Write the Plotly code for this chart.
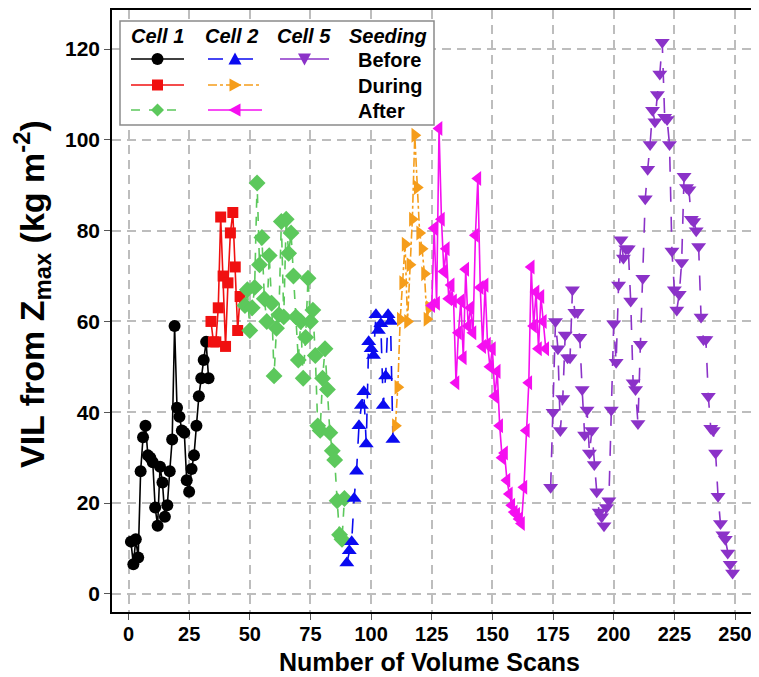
import plotly.graph_objects as go

# ---------------- data ----------------
cell1_before_x = list(range(1, 34))
cell1_before_y = [11.5, 6.5, 12, 8, 27, 34.5, 37, 30.5, 30, 29, 19, 15, 28, 24.5, 17, 19.5,
                  27, 34, 59, 41, 39, 36, 35.5, 25, 22.5, 27.5, 30.5, 37, 43.5, 47.5, 51.5,
                  55.5, 47.5]

cell1_during_x = list(range(34, 47))
cell1_during_y = [60, 55.5, 55.5, 63, 83, 70, 54.5, 68.5, 79.5, 84, 72, 58, 65.5]

cell1_after_x = list(range(48, 90))
cell1_after_y = [63.5, 67, 58, 63, 67.5, 90.5, 72.5, 78.5, 65, 60, 74.5, 64, 48, 58.5, 61.5,
                 82, 61, 82.5, 75, 79.5, 70, 61, 51.5, 60, 47.5, 56.5, 69.5, 60, 62.5, 52.5,
                 37, 36, 47.5, 54, 45, 35.5, 31.5, 29.5, 20.5, 13, 12, 21]

cell2_before_x = list(range(90, 110))
cell2_before_y = [6.8, 9.5, 11.5, 21, 27, 37, 41.5, 44.5, 33, 55.5, 54, 52.5, 61.5, 58, 59.5,
                  41.5, 48, 61.5, 60, 34]

cell2_during_x = list(range(110, 125))
cell2_during_y = [37, 45.5, 60.5, 68.5, 77, 60, 72.5, 82.5, 101, 89.5, 79.5, 76, 70.5, 60.5, 63]

cell2_after_x = list(range(125, 173))
cell2_after_y = [63.5, 80.5, 64, 102.5, 82.5, 71, 76, 65, 68, 64.5, 46.5, 57.5, 64.5, 52, 71.5,
                 59, 63, 57.5, 79, 91.5, 67.5, 54.5, 68, 55, 50, 54, 43.5, 49, 37, 30, 31, 25,
                 22, 19.5, 18, 17.5, 16.5, 15.5, 23.5, 36, 46.5, 72, 59, 66.5, 54, 65.5, 60, 54]

cell5_before_x = list(range(174, 250))
cell5_before_y = [23.5, 40, 60, 54, 36, 43, 57, 52, 52, 67, 62, 62, 56.5, 45, 35, 40.5, 31, 36,
                  28.5, 22.5, 18, 17, 15, 19, 20.5, 40.5, 59.5, 51, 68, 78, 74, 76, 76, 64.5,
                  46.5, 45, 37.5, 55, 69.5, 87, 93.5, 99, 106.5, 104, 110, 114.5, 121.5, 105,
                  104.5, 99, 75.5, 67, 62.5, 66, 73, 92, 89.5, 89, 82.5, 82, 80, 76.5, 61, 56,
                  56, 43.5, 36.5, 36, 31, 21.5, 15.5, 13, 12, 9, 6.5, 4.6]

x_ticks = [0, 25, 50, 75, 100, 125, 150, 175, 200, 225, 250]
y_ticks = [0, 20, 40, 60, 80, 100, 120]

col_headers = ["Cell 1", "Cell 2", "Cell 5", "Seeding"]
row_labels = ["Before", "During", "After"]
x_title = "<b>Number of Volume Scans</b>"
y_title = "<b>VIL from Z<sub>max</sub> (kg m<sup>-2</sup>)</b>"

# ---------------- styles ----------------
BLACK, RED, GREEN = "#000000", "#F01010", "#5CC85C"
BLUE, ORANGE, MAGENTA, PURPLE = "#0A0AF0", "#F59D1B", "#F50FF0", "#8B32C8"

series = [
    (cell1_before_x, cell1_before_y, BLACK, "circle", 12, "solid"),
    (cell1_during_x, cell1_during_y, RED, "square", 11, "solid"),
    (cell1_after_x, cell1_after_y, GREEN, "diamond", 13, "dash"),
    (cell2_before_x, cell2_before_y, BLUE, "triangle-up", 13, "longdash"),
    (cell2_during_x, cell2_during_y, ORANGE, "triangle-right", 13, "dashdot"),
    (cell2_after_x, cell2_after_y, MAGENTA, "triangle-left", 13, "solid"),
    (cell5_before_x, cell5_before_y, PURPLE, "triangle-down", 13, "longdash"),
]

fig = go.Figure()
for xs, ys, col, sym, size, dash in series:
    fig.add_trace(go.Scatter(
        x=xs, y=ys, mode="lines+markers",
        line=dict(color=col, width=1.6, dash=dash),
        marker=dict(color=col, symbol=sym, size=size, line=dict(width=0)),
        showlegend=False, cliponaxis=False))

# page is shown with the browser's default 8px body margin
OFF = 8
PAGE_W, PAGE_H = 759, 677
W, H = PAGE_W - OFF, PAGE_H - OFF
# plot area in page pixels: x 112..752, y 10..612
P_L, P_R, P_T, P_B = 112, 752, 10, 612
L, R, T, B = P_L - OFF, (PAGE_W - P_R), P_T - OFF, (PAGE_H - P_B)
PW, PH = W - L - R, H - T - B
FONT = "Liberation Sans, Arial, sans-serif"


def px(x):
    return (x - P_L) / PW


def py(y):
    return (P_B - y) / PH


shapes = []
annotations = []
# legend box
shapes.append(dict(type="rect", xref="paper", yref="paper", layer="above",
                   x0=px(120), x1=px(434), y0=py(125), y1=py(21),
                   fillcolor="white", line=dict(color="#8A8A8A", width=1.5)))

col_centers = [157, 231, 304, 388]
row_y = [59, 85, 110]
for cx, txt in zip(col_centers, col_headers):
    annotations.append(dict(xref="paper", yref="paper", x=px(cx), y=py(36), text=f"<b><i>{txt}</i></b>",
                            showarrow=False, xanchor="center", yanchor="middle",
                            font=dict(family=FONT, size=20, color="black")))
for ry, txt in zip(row_y, row_labels):
    annotations.append(dict(xref="paper", yref="paper", x=px(356), y=py(ry + 1), text=f"<b>{txt}</b>",
                            showarrow=False, xanchor="left", yanchor="middle",
                            font=dict(family=FONT, size=20, color="black")))

# axis titles
annotations.append(dict(xref="paper", yref="paper", x=px(429), y=py(662), text=x_title,
                        showarrow=False, xanchor="center", yanchor="middle",
                        font=dict(family=FONT, size=25, color="black")))
annotations.append(dict(xref="paper", yref="paper", x=px(32), y=py(294), text=y_title,
                        showarrow=False, xanchor="center", yanchor="middle", textangle=-90,
                        font=dict(family=FONT, size=34, color="black")))

legend_items = [
    (0, 0, BLACK, "circle", "solid"), (0, 1, RED, "square", "solid"), (0, 2, GREEN, "diamond", "dash"),
    (1, 0, BLUE, "triangle-up", "longdash"), (1, 1, ORANGE, "triangle-right", "dashdot"),
    (1, 2, MAGENTA, "triangle-left", "solid"), (2, 0, PURPLE, "triangle-down", "solid"),
]
line_spans = [(131, 184), (208, 262), (280, 329)]


def marker_shape(sym, cx, cy, col):
    s = 6.5
    if sym == "circle":
        return dict(type="circle", xref="paper", yref="paper", layer="above",
                    x0=px(cx - 6), x1=px(cx + 6), y0=py(cy + 6), y1=py(cy - 6),
                    fillcolor=col, line=dict(width=0))
    if sym == "square":
        return dict(type="rect", xref="paper", yref="paper", layer="above",
                    x0=px(cx - 5.5), x1=px(cx + 5.5), y0=py(cy + 5.5), y1=py(cy - 5.5),
                    fillcolor=col, line=dict(width=0))
    pts = {
        "diamond": [(0, -s), (s, 0), (0, s), (-s, 0)],
        "triangle-up": [(-s, 5.5), (s, 5.5), (0, -s)],
        "triangle-down": [(-s, -5.5), (s, -5.5), (0, s)],
        "triangle-right": [(-5.5, -s), (s, 0), (-5.5, s)],
        "triangle-left": [(5.5, -s), (-s, 0), (5.5, s)],
    }[sym]
    path = "M " + " L ".join(f"{px(cx + dx):.5f},{py(cy + dy):.5f}" for dx, dy in pts) + " Z"
    return dict(type="path", xref="paper", yref="paper", layer="above", path=path,
                fillcolor=col, line=dict(width=0))


for c, r, col, sym, dash in legend_items:
    x0, x1 = line_spans[c]
    cy = row_y[r]
    shapes.append(dict(type="line", xref="paper", yref="paper", layer="above",
                       x0=px(x0), x1=px(x1), y0=py(cy), y1=py(cy),
                       line=dict(color=col, width=1.6, dash=dash)))
    shapes.append(marker_shape(sym, (x0 + x1) / 2, cy, col))

axis_common = dict(
    showgrid=True, gridcolor="#BDBDBD", gridwidth=1.5, griddash="9px,6px",
    showline=True, mirror=True, linecolor="black", linewidth=1.5,
    ticks="outside", ticklen=6, tickwidth=1, tickcolor="#555555",
    zeroline=False, automargin=False,
)

fig.update_layout(
    width=W, height=H,
    margin=dict(l=L, r=R, t=T, b=B, autoexpand=False),
    paper_bgcolor="white", plot_bgcolor="white",
    xaxis=dict(range=[-6.8, 257], tickvals=x_ticks, ticklabelstandoff=-3, **axis_common,
               tickfont=dict(family=FONT, size=20, color="black", weight="bold")),
    yaxis=dict(range=[-4, 128.6], tickvals=y_ticks, **axis_common,
               tickfont=dict(family=FONT, size=21, color="black", weight="bold")),
    shapes=shapes, annotations=annotations,
)

fig.write_html("out.html")
